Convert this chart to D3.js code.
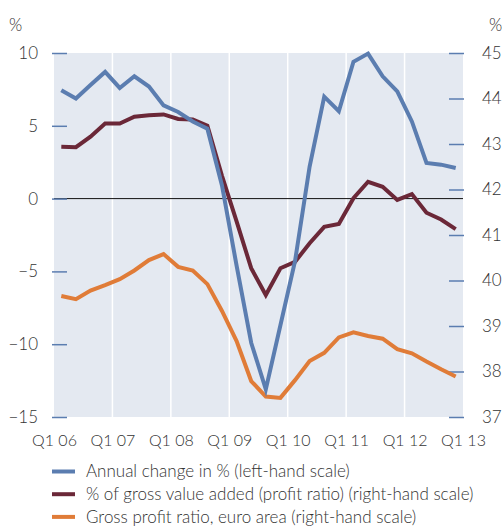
<!DOCTYPE html>
<html>
<head>
<meta charset="utf-8">
<script src="https://cdn.jsdelivr.net/npm/d3@7"></script>
<style>
  body { margin: 0; background: #fff; }
  svg text { font-family: "Lato", "Open Sans", sans-serif; font-weight: 300; fill: #333; }
</style>
</head>
<body>
<svg id="chart" width="502" height="526"></svg>
<script>
// Quarter labels for x ticks (every Q1)
var tickLabels = ["Q1 06", "Q1 07", "Q1 08", "Q1 09", "Q1 10", "Q1 11", "Q1 12", "Q1 13"];

// Annual change in % (left-hand scale), Q1 06 .. Q4 12
var annualChange = [7.44, 6.87, 7.8, 8.7, 7.6, 8.4, 7.7, 6.4, 5.95, 5.3, 4.8, 0.9, -4.6, -9.9,
    -13.1, -8.7, -4.3, 2.2, 7.0, 6.0, 9.4, 9.96, 8.4, 7.37, 5.3, 2.45, 2.33, 2.1];

// % of gross value added (profit ratio) (right-hand scale)
var profitRatio = [42.94, 42.93, 43.16, 43.45, 43.45, 43.6, 43.63, 43.65, 43.55, 43.54, 43.4, 42.3,
    41.3, 40.27, 39.68, 40.27, 40.41, 40.82, 41.18, 41.24, 41.81, 42.17, 42.06, 41.77, 41.9, 41.49, 41.34, 41.13];

// Gross profit ratio, euro area (right-hand scale)
var euroArea = [39.66, 39.59, 39.78, 39.9, 40.03, 40.22, 40.45, 40.58, 40.3, 40.22, 39.92, 39.33,
    38.67, 37.79, 37.45, 37.42, 37.81, 38.23, 38.41, 38.75, 38.86, 38.78, 38.72, 38.49, 38.4, 38.22, 38.05, 37.89];

var leftTicks = [10, 5, 0, -5, -10, -15];
var rightTicks = [45, 44, 43, 42, 41, 40, 39, 38, 37];

var legendItems = [
    { label: "Annual change in % (left-hand scale)", color: "#5b7db0" },
    { label: "% of gross value added (profit ratio) (right-hand scale)", color: "#6b2838" },
    { label: "Gross profit ratio, euro area (right-hand scale)", color: "#e07c38" }
];

var svg = d3.select("#chart");
var plot = { left: 54, right: 463, top: 53, bottom: 417 };

var x = d3.scaleLinear().domain([0, 28]).range([plot.left, plot.right]);
var yLeft = d3.scaleLinear().domain([-15, 10]).range([plot.bottom, plot.top]);
var yRight = d3.scaleLinear().domain([37, 45]).range([plot.bottom, plot.top]);

// Panel background
svg.append("rect")
    .attr("x", plot.left).attr("y", plot.top)
    .attr("width", plot.right - plot.left).attr("height", plot.bottom - plot.top)
    .attr("fill", "#e4e9f1");

// White year gridlines
svg.append("g").selectAll("line")
    .data(d3.range(4, 28, 4))
    .join("line")
    .attr("x1", function(d) { return x(d); }).attr("x2", function(d) { return x(d); })
    .attr("y1", plot.top).attr("y2", plot.bottom)
    .attr("stroke", "#fff").attr("stroke-width", 1.5);

// Zero line
svg.append("line")
    .attr("x1", plot.left).attr("x2", plot.right)
    .attr("y1", yLeft(0)).attr("y2", yLeft(0))
    .attr("stroke", "#111").attr("stroke-width", 1);

// Left axis
var leftAxis = d3.axisRight(yLeft).tickValues(leftTicks).tickSize(15)
    .tickFormat(function(d) { return d < 0 ? "\u2212" + Math.abs(d) : d; });
var gL = svg.append("g").attr("transform", "translate(" + (plot.left - 2) + ",0)").call(leftAxis);
gL.select(".domain").remove();
gL.selectAll(".tick line").attr("stroke", "#5b7db0").attr("stroke-width", 1.5);
gL.selectAll(".tick text").attr("x", -14).attr("text-anchor", "end").style("font-size", "17px");

// Right axis
var rightAxis = d3.axisLeft(yRight).tickValues(rightTicks).tickSize(15);
var gR = svg.append("g").attr("transform", "translate(" + (plot.right + 1) + ",0)").call(rightAxis);
gR.select(".domain").remove();
gR.selectAll(".tick line").attr("stroke", "#5b7db0").attr("stroke-width", 1.5);
gR.selectAll(".tick text").attr("x", 18).attr("text-anchor", "start").style("font-size", "17px");

// Unit labels
svg.append("text").attr("x", 9).attr("y", 31).style("font-size", "17px").text("%");
svg.append("text").attr("x", 489).attr("y", 31).style("font-size", "17px").text("%");

// X axis labels
var xAxis = d3.axisBottom(x).tickValues(d3.range(0, 29, 4)).tickSize(0)
    .tickFormat(function(d, i) { return tickLabels[i]; });
var gX = svg.append("g").attr("transform", "translate(0," + plot.bottom + ")").call(xAxis);
gX.select(".domain").remove();
gX.selectAll(".tick text").attr("y", 18).style("font-size", "16px");

// Lines
function drawLine(values, yScale, color) {
    var line = d3.line()
        .x(function(d, i) { return x(i + 0.5); })
        .y(function(d) { return yScale(d); });
    svg.append("path")
        .datum(values)
        .attr("d", line)
        .attr("fill", "none")
        .attr("stroke", color)
        .attr("stroke-width", 4)
        .attr("stroke-linejoin", "miter");
}
drawLine(euroArea, yRight, legendItems[2].color);
drawLine(profitRatio, yRight, legendItems[1].color);
drawLine(annualChange, yLeft, legendItems[0].color);

// Legend
var legend = svg.append("g").selectAll("g")
    .data(legendItems)
    .join("g")
    .attr("transform", function(d, i) { return "translate(52," + (471.5 + i * 22.7) + ")"; });
legend.append("line")
    .attr("x1", 0).attr("x2", 23).attr("y1", 0).attr("y2", 0)
    .attr("stroke", function(d) { return d.color; }).attr("stroke-width", 4);
legend.append("text")
    .attr("x", 34).attr("y", 0).attr("dy", "0.35em")
    .style("font-size", "17px")
    .text(function(d) { return d.label; });
</script>
</body>
</html>
